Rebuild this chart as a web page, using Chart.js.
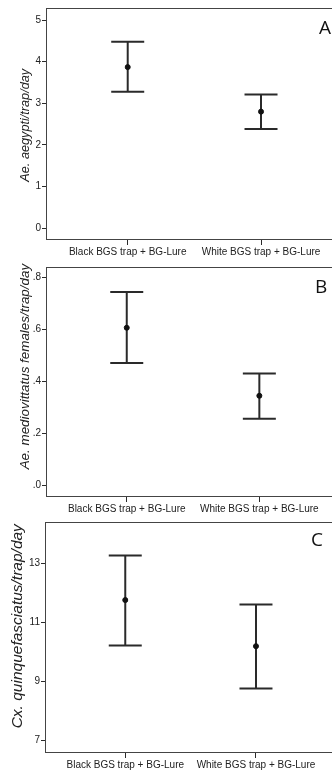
<!DOCTYPE html>
<html>
<head>
<meta charset="utf-8">
<script src="https://cdn.jsdelivr.net/npm/chart.js@4.4.0/dist/chart.umd.min.js"></script>
<style>
html, body { margin: 0; padding: 0; background: #fff; overflow: hidden; width: 332px; height: 771px; }
.panel { position: absolute; left: 0; width: 345px; height: 257px; }
.letter { position: absolute; font-family: "Open Sans", "Liberation Sans", sans-serif; font-size: 19px; line-height: 19px; color: #111; }
</style>
</head>
<body>
<div class="panel" style="top:0"><canvas id="chartA"></canvas></div>
<div class="panel" style="top:257px"><canvas id="chartB"></canvas></div>
<div class="panel" style="top:514px"><canvas id="chartC"></canvas></div>
<div class="letter" style="left:319px;top:18px">A</div>
<div class="letter" style="left:315px;top:277px">B</div>
<div class="letter" style="left:311px;top:530px">C</div>
<script>
var categories = ['Black BGS trap + BG-Lure', 'White BGS trap + BG-Lure']

// panel A
var meanA = [3.87, 2.80]
var lowerA = [3.28, 2.38]
var upperA = [4.48, 3.21]
var ticksA = [0, 1, 2, 3, 4, 5]

// panel B
var meanB = [0.607, 0.345]
var lowerB = [0.471, 0.257]
var upperB = [0.745, 0.431]
var ticksB = [0, 0.2, 0.4, 0.6, 0.8]

// panel C
var meanC = [11.75, 10.19]
var lowerC = [10.21, 8.76]
var upperC = [13.26, 11.60]
var ticksC = [7, 9, 11, 13]

var ink = '#2a2a2a'

// frame around the plot area
var boxPlugin = {
    id: 'box',
    afterDraw(chart) {
        const a = chart.chartArea, c = chart.ctx
        c.save()
        c.strokeStyle = '#444'
        c.lineWidth = 1
        c.strokeRect(Math.round(a.left) + 0.5, Math.round(a.top) + 0.5, a.right - a.left, Math.round(a.bottom - a.top))
        c.restore()
    }
}

function noPad(s) {
    s.paddingTop = 0
    s.paddingBottom = 0
    s.paddingLeft = 0
    s.paddingRight = 0
}

function makePanel(id, p) {
    let datasets = categories.map((cat, i) => {
        return {
            data: [{ x: i, y: p.lower[i] }, { x: i, y: p.upper[i] }],
            showLine: true,
            borderColor: ink,
            borderWidth: 2,
            pointStyle: 'line',
            pointRadius: 16.5,
            pointBorderColor: ink,
            pointBorderWidth: 2,
            order: 2
        }
    })
    datasets.push({
        data: p.mean.map((m, i) => ({ x: i, y: m })),
        pointStyle: 'circle',
        pointRadius: 2.5,
        backgroundColor: '#111',
        borderColor: '#111',
        order: 1
    })
    // the axis title in the original is not quite centred; pad with spaces to nudge it
    let title = ' '.repeat(p.lead || 0) + p.title + ' '.repeat(p.trail || 0)
    return new Chart(document.getElementById(id), {
        type: 'scatter',
        data: { datasets: datasets },
        plugins: [boxPlugin],
        options: {
            responsive: true,
            maintainAspectRatio: false,
            animation: false,
            events: [],
            layout: { autoPadding: false, padding: { top: p.padTop, left: 0, right: 0, bottom: 0 } },
            plugins: { legend: { display: false }, tooltip: { enabled: false } },
            scales: {
                x: {
                    type: 'linear',
                    min: p.xMin,
                    max: p.xMax,
                    afterBuildTicks: s => { s.ticks = categories.map((c, i) => ({ value: i })) },
                    afterFit: s => { s.height = p.xHeight; noPad(s) },
                    grid: { display: true, drawOnChartArea: false, drawTicks: true, tickLength: 6, color: ink },
                    border: { display: false },
                    ticks: {
                        autoSkip: false,
                        maxRotation: 0,
                        padding: 1,
                        color: '#222',
                        font: { family: 'Liberation Sans', size: 10 },
                        callback: v => categories[v]
                    }
                },
                y: {
                    min: p.yMin,
                    max: p.yMax,
                    afterBuildTicks: s => { s.ticks = p.ticks.map(v => ({ value: v })) },
                    afterFit: s => { s.width = p.yWidth; noPad(s) },
                    grid: { display: true, drawOnChartArea: false, drawTicks: true, tickLength: 4, color: ink },
                    border: { display: false },
                    ticks: {
                        padding: 1,
                        color: '#222',
                        font: { family: 'Liberation Sans', size: 10 },
                        callback: p.fmt
                    },
                    title: {
                        display: true,
                        text: title,
                        color: '#222',
                        font: { family: 'Liberation Sans', size: p.titleSize, style: 'italic' },
                        padding: { top: p.titlePad, bottom: 0 }
                    }
                }
            }
        }
    })
}

makePanel('chartA', {
    mean: meanA, lower: lowerA, upper: upperA, ticks: ticksA,
    yMin: -0.26, yMax: 5.29, xMin: -0.613, xMax: 1.63,
    padTop: 8, xHeight: 18, yWidth: 46,
    title: 'Ae. aegypti/trap/day', titleSize: 12.7, titlePad: 18, trail: 1,
    fmt: v => String(v)
})
makePanel('chartB', {
    mean: meanB, lower: lowerB, upper: upperB, ticks: ticksB,
    yMin: -0.041, yMax: 0.841, xMin: -0.609, xMax: 1.646,
    padTop: 10, xHeight: 18, yWidth: 46,
    title: 'Ae. mediovittatus females/trap/day', titleSize: 13.4, titlePad: 17, lead: 8,
    fmt: v => v.toFixed(1).replace(/^0/, '')
})
makePanel('chartC', {
    mean: meanC, lower: lowerC, upper: upperC, ticks: ticksC,
    yMin: 6.61, yMax: 14.39, xMin: -0.614, xMax: 1.681,
    padTop: 8, xHeight: 19, yWidth: 45,
    title: 'Cx. quinquefasciatus/trap/day', titleSize: 15.5, titlePad: 8, lead: 5,
    fmt: v => String(v)
})
</script>
</body>
</html>
